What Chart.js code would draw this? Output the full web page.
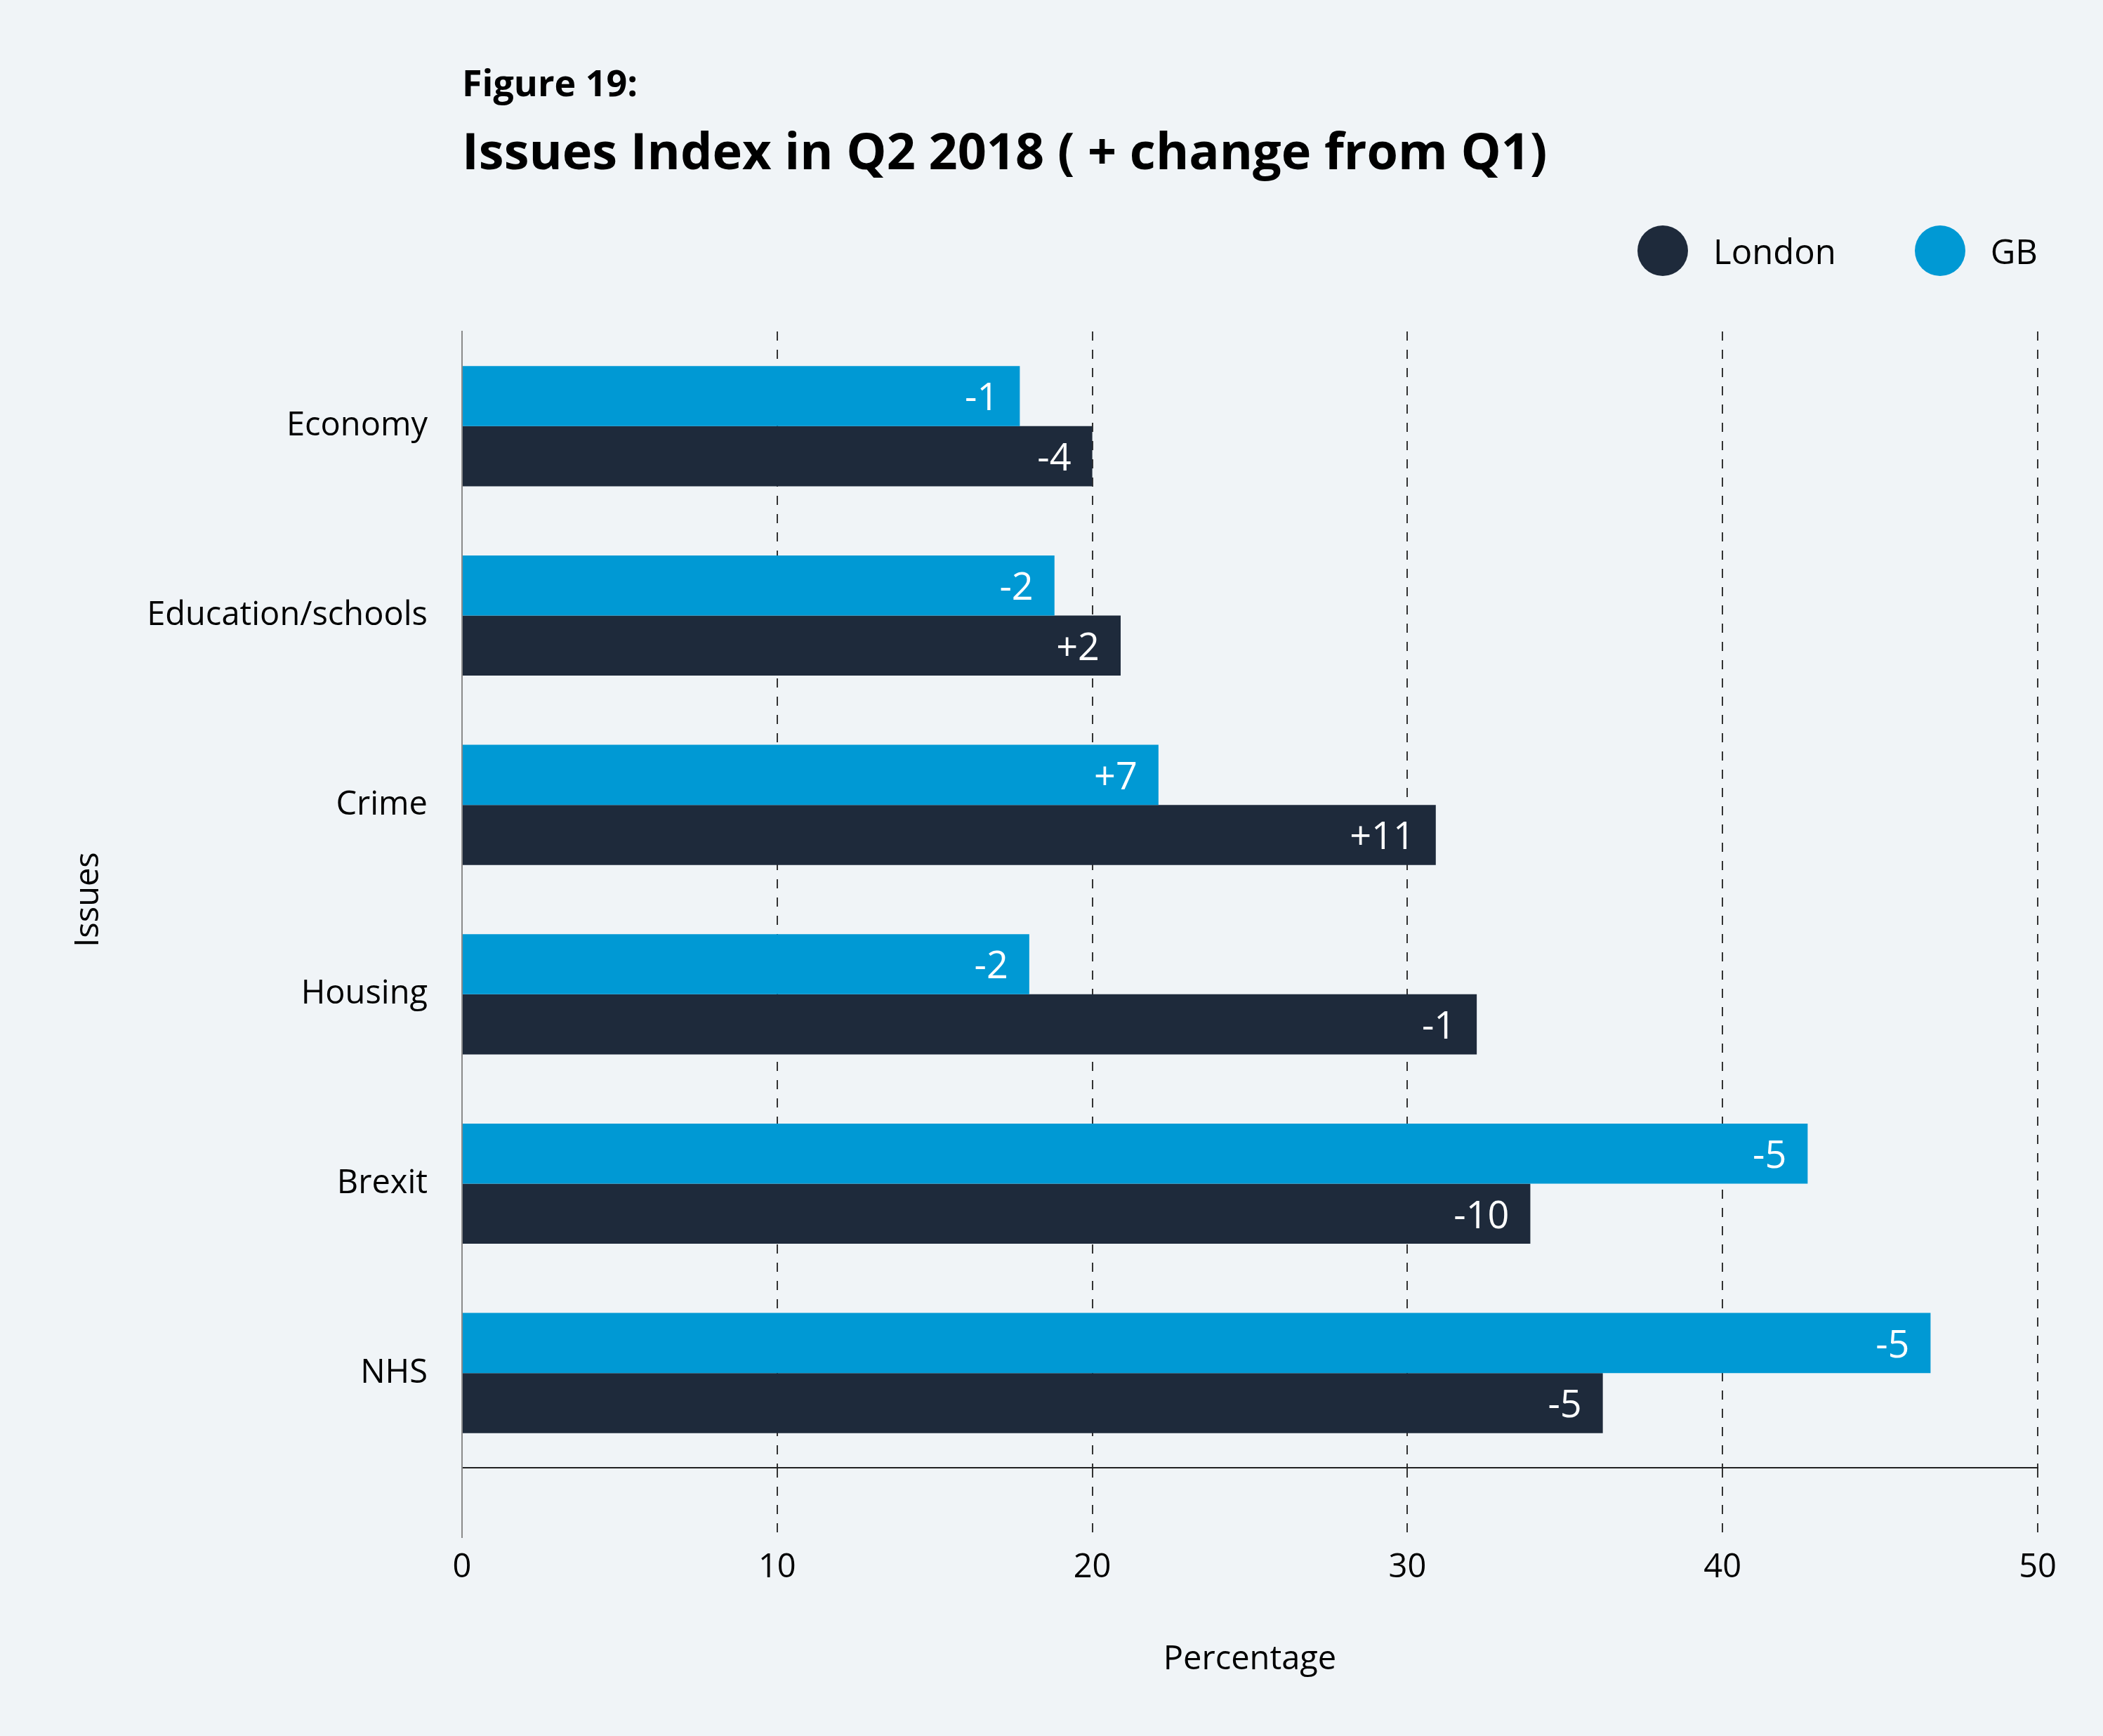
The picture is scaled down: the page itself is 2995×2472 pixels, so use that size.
<!DOCTYPE html>
<html>
<head>
<meta charset="utf-8">
<title>Issues Index in Q2 2018</title>
<script src="https://cdn.jsdelivr.net/npm/chart.js@4.4.1/dist/chart.umd.min.js"></script>
<style>
  html, body { margin: 0; padding: 0; background: #f0f4f7; }
  #wrap { position: relative; width: 2995px; height: 2472px; font-family: "Open Sans", Lato, sans-serif; color: #000; }
  #chart { position: absolute; left: 0; top: 0; }
  .fig { position: absolute; left: 658px; top: 91px; font-size: 52px; font-weight: 700; line-height: 1; }
  .title { position: absolute; left: 658px; top: 177px; font-size: 72px; font-weight: 700; line-height: 1; white-space: nowrap; }
  #legend { position: absolute; right: 93px; top: 321px; height: 72px; display: flex; align-items: center; }
  .item { display: flex; align-items: center; font-size: 49px; line-height: 1; }
  .item + .item { margin-left: 112px; }
  .dot { width: 72px; height: 72px; border-radius: 50%; margin-right: 36px; }
</style>
</head>
<body>
<div id="wrap">
  <canvas id="chart" width="2995" height="2472"></canvas>
  <div class="fig">Figure 19:</div>
  <div class="title">Issues Index in Q2 2018 ( + change from Q1)</div>
  <div id="legend"></div>
</div>
<script>
// data
const issues = ["Economy", "Education/schools", "Crime", "Housing", "Brexit", "NHS"];
const gbValues = [17.7, 18.8, 22.1, 18.0, 42.7, 46.6];
const londonValues = [20.0, 20.9, 30.9, 32.2, 33.9, 36.2];
const gbChange = ["-1", "-2", "+7", "-2", "-5", "-5"];
const londonChange = ["-4", "+2", "+11", "-1", "-10", "-5"];
const xTicks = [0, 10, 20, 30, 40, 50];

const GB_COLOR = "#0099d4";
const LONDON_COLOR = "#1e2a3b";
const FONT = "'Open Sans', Lato, sans-serif";

Chart.defaults.font.family = FONT;
Chart.defaults.color = "#000";

// white change labels at the end of each bar
const barLabels = {
  id: "barLabels",
  afterDatasetsDraw(chart) {
    const ctx = chart.ctx;
    ctx.save();
    ctx.fillStyle = "#fff";
    ctx.font = "54px " + FONT;
    ctx.textAlign = "right";
    ctx.textBaseline = "middle";
    chart.data.datasets.forEach((ds, i) => {
      chart.getDatasetMeta(i).data.forEach((bar, j) => {
        ctx.fillText(ds.changes[j], bar.x - 30, bar.y + 5);
      });
    });
    ctx.restore();
  }
};

const chart = new Chart(document.getElementById("chart"), {
  type: "bar",
  data: {
    labels: issues,
    datasets: [
      { label: "GB", data: gbValues, changes: gbChange, backgroundColor: GB_COLOR },
      { label: "London", data: londonValues, changes: londonChange, backgroundColor: LONDON_COLOR }
    ]
  },
  options: {
    indexAxis: "y",
    responsive: false,
    animation: false,
    devicePixelRatio: 1,
    barPercentage: 1,
    categoryPercentage: 0.635,
    layout: { padding: { top: 472, right: 93, bottom: 0, left: 0 } },
    plugins: {
      legend: { display: false },
      title: { display: false },
      tooltip: { enabled: false }
    },
    scales: {
      x: {
        min: 0,
        max: 50,
        afterBuildTicks: s => { s.ticks = xTicks.map(v => ({ value: v })); },
        afterFit: s => { s.height = 382; },
        grid: {
          color: c => c.index === 0 ? "rgba(0,0,0,0)" : "#333",
          lineWidth: 2,
          tickWidth: 2,
          tickLength: 100,
          tickColor: c => c.index === 0 ? "#8a8a8a" : "#333",
          tickBorderDash: c => c.index === 0 ? [] : [13, 13]
        },
        border: { display: true, color: "#222", width: 2, dash: [13, 13] },
        ticks: { padding: 14, font: { size: 47 }, color: "#000" },
        title: { display: true, text: "Percentage", font: { size: 47 }, color: "#000", padding: { top: 0, bottom: 80 } }
      },
      y: {
        afterFit: s => { s.width = 658; },
        grid: { display: false, drawTicks: false },
        border: { display: true, color: "#8a8a8a", width: 2 },
        ticks: { padding: 49, font: { size: 47 }, color: "#000" },
        title: { display: true, text: "Issues", font: { size: 47 }, color: "#000", padding: { top: 98, bottom: 0 } }
      }
    }
  },
  plugins: [barLabels]
});

// legend: London first, then GB
const legend = document.getElementById("legend");
chart.data.datasets.slice().reverse().forEach(ds => {
  const item = document.createElement("div");
  item.className = "item";
  item.innerHTML = `<span class="dot" style="background:${ds.backgroundColor}"></span><span>${ds.label}</span>`;
  legend.appendChild(item);
});
</script>
</body>
</html>
